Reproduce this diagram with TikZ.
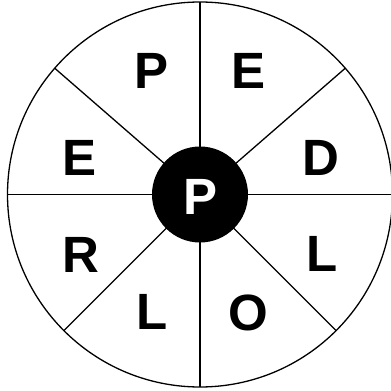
\documentclass[tikz,border=0pt]{standalone}
\usepackage{fontspec}
\setmainfont{Liberation Sans}
\begin{document}
\begin{tikzpicture}[x=1bp,y=1bp,
  letter/.style={inner sep=0pt, font=\fontsize{51bp}{60bp}\selectfont\bfseries},
  ring/.style={line width=1.3bp}]
\useasboundingbox (0,0) rectangle (391,391);
\coordinate (c) at (200,196.5);
\draw[ring] (c) circle (192.5);
\foreach \a in {0,41,90,139,180,225,270,315}
  \draw[ring] (c) -- ++(\a:192.5);
\fill[black] (c) circle (48);
\node[letter, text=white] (pc) at (200.3,194.5) {P};
\node[letter] (l1) at (152,320) {P};
\node[letter] (l2) at (248.8,320) {E};
\node[letter] (l3) at (321.3,233) {D};
\node[letter] (l4) at (322,136.7) {L};
\node[letter] (l5) at (248,78) {O};
\node[letter] (l6) at (152.5,79) {L};
\node[letter] (l7) at (81.3,136.3) {R};
\node[letter] (l8) at (80,232.7) {E};
\end{tikzpicture}
\end{document}
